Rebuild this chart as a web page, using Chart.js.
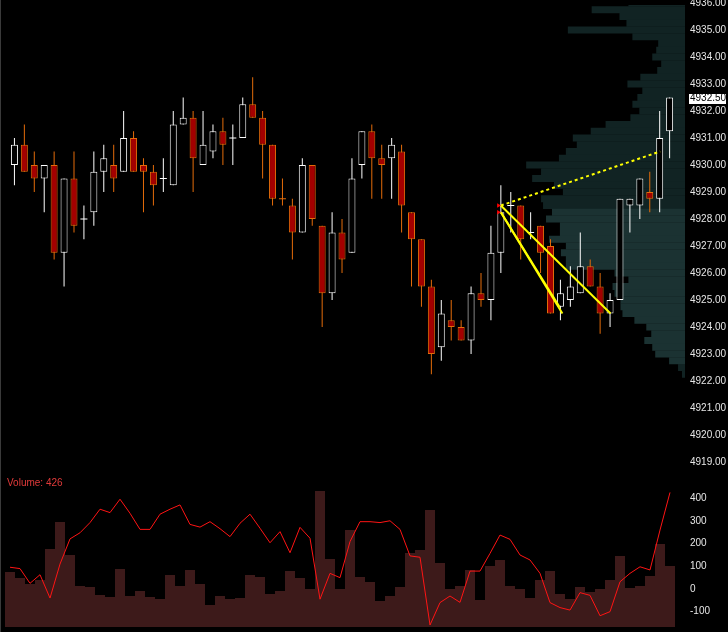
<!DOCTYPE html>
<html>
<head>
<meta charset="utf-8">
<script src="https://cdn.jsdelivr.net/npm/chart.js@4.4.0/dist/chart.umd.min.js"></script>
<style>
  html, body { margin: 0; padding: 0; background: #000; overflow: hidden; }
  #wrap { position: relative; width: 728px; height: 632px; background: #000; }
  #top { position: absolute; left: 0; top: 0; width: 728px; height: 466px; }
  #bot { position: absolute; left: 0; top: 466px; width: 728px; height: 166px; }
  #edge { position: absolute; left: 0; top: 0; width: 1px; height: 632px; background: #3a3a3a; }
</style>
</head>
<body>
<div id="wrap">
  <div id="top"><canvas id="price" width="728" height="466"></canvas></div>
  <div id="bot"><canvas id="vol" width="728" height="166"></canvas></div>
  <div id="edge"></div>
</div>
<script>
const FONT_FAMILY = "'Liberation Sans', Arial, sans-serif";
const WHITE = '#ffffff', ORANGE = '#e46c0a', RED = '#a30000';

// candles (one per bar, left to right)
const opens  = [4930.0, 4930.75, 4930.0, 4929.5, 4930.0, 4926.75, 4929.5, 4928.0, 4928.25, 4929.75,
                4930.0, 4929.75, 4931.0, 4930.0, 4929.75, 4929.5, 4929.25, 4931.5, 4931.75, 4930.0,
                4930.5, 4931.25, 4931.0, 4931.0, 4932.25, 4931.75, 4930.75, 4928.75, 4928.5, 4927.5,
                4930.0, 4927.75, 4925.25, 4927.5, 4926.75, 4930.0, 4931.25, 4930.25, 4930.25, 4930.5,
                4928.25, 4927.25, 4925.5, 4923.25, 4924.25, 4924.0, 4923.5, 4925.25, 4925.0, 4926.75,
                4928.5, 4928.5, 4927.5, 4927.75, 4927.0, 4924.75, 4925.0, 4925.25, 4926.25, 4925.5,
                4924.5, 4925.0, 4928.5, 4928.5, 4929.0, 4928.75, 4931.25];
const highs  = [4931.0, 4931.5, 4930.5, 4930.0, 4930.5, 4929.5, 4930.5, 4928.5, 4930.5, 4930.75,
                4930.75, 4932.0, 4931.25, 4930.25, 4930.0, 4930.25, 4932.0, 4932.5, 4932.0, 4932.0,
                4931.5, 4931.75, 4931.5, 4932.5, 4933.25, 4932.0, 4930.75, 4929.5, 4928.75, 4930.25,
                4930.0, 4927.75, 4928.25, 4928.0, 4930.25, 4931.25, 4931.5, 4930.75, 4931.0, 4930.75,
                4928.25, 4927.25, 4925.75, 4925.0, 4925.0, 4924.25, 4925.5, 4926.0, 4927.75, 4929.25,
                4929.0, 4928.5, 4928.25, 4927.75, 4927.25, 4925.75, 4926.25, 4927.5, 4926.5, 4926.0,
                4925.25, 4928.75, 4928.75, 4929.5, 4929.75, 4932.0, 4932.5];
const lows   = [4929.25, 4929.75, 4929.0, 4928.25, 4926.5, 4925.5, 4927.5, 4927.25, 4927.75, 4929.0,
                4929.0, 4929.75, 4929.75, 4928.25, 4928.5, 4929.0, 4929.25, 4931.5, 4929.0, 4930.0,
                4930.25, 4930.0, 4930.0, 4931.0, 4931.75, 4929.5, 4928.5, 4928.5, 4926.5, 4927.5,
                4927.75, 4924.0, 4925.0, 4926.0, 4926.75, 4929.5, 4928.75, 4928.75, 4928.75, 4927.5,
                4925.5, 4924.75, 4922.25, 4922.75, 4923.5, 4923.5, 4923.0, 4924.75, 4924.25, 4926.0,
                4927.5, 4926.5, 4927.25, 4926.0, 4924.5, 4924.25, 4924.75, 4925.25, 4925.5, 4923.75,
                4924.0, 4925.0, 4927.5, 4928.0, 4928.25, 4928.25, 4930.25];
const closes = [4930.75, 4929.75, 4929.5, 4930.0, 4926.75, 4929.5, 4927.75, 4928.0, 4929.75, 4930.25,
                4929.5, 4931.0, 4929.75, 4929.75, 4929.25, 4929.5, 4931.5, 4931.75, 4930.25, 4930.75,
                4931.25, 4930.75, 4931.0, 4932.25, 4931.75, 4930.75, 4928.75, 4928.75, 4927.5, 4930.0,
                4928.0, 4925.25, 4927.5, 4926.5, 4929.5, 4931.25, 4930.25, 4930.0, 4930.75, 4928.5,
                4927.25, 4925.5, 4923.0, 4924.5, 4924.0, 4923.5, 4925.25, 4925.0, 4926.75, 4928.25,
                4928.5, 4927.25, 4927.5, 4926.75, 4924.5, 4925.25, 4925.5, 4926.25, 4925.5, 4924.5,
                4925.0, 4928.75, 4928.75, 4929.5, 4928.75, 4931.0, 4932.5];

// volume bars and the red line of the lower pane
const volume = [275, 245, 215, 235, 390, 525, 360, 205, 200, 160,
                150, 290, 155, 180, 150, 140, 260, 205, 285, 215,
                110, 155, 140, 145, 260, 250, 165, 180, 280, 245,
                190, 680, 340, 190, 485, 250, 225, 130, 155, 200,
                370, 385, 585, 320, 190, 205, 285, 135, 305, 335,
                205, 190, 145, 235, 280, 165, 140, 200, 175, 190,
                235, 355, 195, 205, 255, 415, 305];
const volLine = [96, 90, 25, 63, -40, 110, 221, 248, 293, 352,
                 337, 396, 334, 263, 263, 330, 352, 371, 285, 273,
                 297, 266, 231, 290, 330, 268, 204, 253, 160, 272,
                 224, -45, 69, 50, 209, 297, 297, 293, 301, 263,
                 146, 140, -159, -60, -31, -59, 79, 79, 157, 238,
                 219, 150, 128, 69, -60, -82, -93, -16, -28, -118,
                 -100, 32, 69, 98, 84, 260, 426];

// volume profile (price level -> traded volume)
const profilePrices = [4936.00, 4935.75, 4935.50, 4935.25, 4935.00, 4934.75, 4934.50, 4934.25,
                       4934.00, 4933.75, 4933.50, 4933.25, 4933.00, 4932.75, 4932.50, 4932.25,
                       4932.00, 4931.75, 4931.50, 4931.25, 4931.00, 4930.75, 4930.50, 4930.25,
                       4930.00, 4929.75, 4929.50, 4929.25, 4929.00, 4928.75, 4928.50, 4928.25,
                       4928.00, 4927.75, 4927.50, 4927.25, 4927.00, 4926.75, 4926.50, 4926.25,
                       4926.00, 4925.75, 4925.50, 4925.25, 4925.00, 4924.75, 4924.50, 4924.25,
                       4924.00, 4923.75, 4923.50, 4923.25, 4923.00, 4922.75, 4922.50, 4922.25];
const profileVol = [57, 94, 66, 59, 118, 53, 27, 29, 33, 24, 28, 45, 58, 43, 48, 53,
                    46, 55, 80, 95, 113, 109, 120, 127, 160, 145, 154, 132, 123, 145, 143, 134,
                    140, 126, 126, 137, 120, 125, 120, 120, 71, 57, 73, 71, 65, 65, 63, 51,
                    39, 34, 41, 33, 30, 16, 7, 3];
const vaHigh = 4928.25, vaLow = 4922.75;

// drawn trend lines [index, price]
const trendA = [[49, 4928.5], [60.05, 4924.5]];
const trendB = [[49, 4928.25], [55.2, 4924.5]];
const trendC = [[49, 4928.25], [54.9, 4924.75]];
const trendDotted = [[49, 4928.5], [65.05, 4930.5]];
const trendStarts = [[48.75, 4928.5], [48.75, 4928.25]];

const priceTicks = [4919, 4920, 4921, 4922, 4923, 4924, 4925, 4926, 4927,
                    4928, 4929, 4930, 4931, 4932, 4933, 4934, 4935, 4936];
const volTicks = [-100, 0, 100, 200, 300, 400];

// where the top and bottom price ticks sit on the canvas
const TOP_TICK_Y = 3, BOTTOM_TICK_Y = 462;

const idx = opens.map((_, i) => i);
const bodyIdx = idx.filter(i => opens[i] !== closes[i]);
const dojiIdx = idx.filter(i => opens[i] === closes[i]);
function isUp(i) {
  if (closes[i] === opens[i]) return i > 0 && closes[i] > closes[i - 1];
  return closes[i] > opens[i];
}
const pts = arr => arr.map(p => ({ x: p[0], y: p[1] }));

const tickFont = { family: FONT_FAMILY, size: 10 };
const tickColor = '#e6e6e6';

const lastPrice = {
  id: 'lastPrice',
  afterDraw(chart) {
    const v = closes[closes.length - 1];
    const y = chart.scales.y.getPixelForValue(v);
    const x = chart.chartArea.right + 4;
    const ctx = chart.ctx;
    ctx.save();
    ctx.fillStyle = '#ffffff';
    ctx.fillRect(x, Math.round(y) - 4, 37, 10);
    ctx.fillStyle = '#000000';
    ctx.font = '10px ' + FONT_FAMILY;
    ctx.textBaseline = 'middle';
    ctx.fillText(v.toFixed(2), x + 1, y + 1);
    ctx.restore();
  }
};

const priceChart = new Chart(document.getElementById('price'), {
  type: 'bar',
  data: {
    datasets: [
      {
        type: 'bar', indexAxis: 'y', xAxisID: 'xp', yAxisID: 'y', order: 10,
        data: profilePrices.map((p, k) => ({ x: profileVol[k], y: p })),
        backgroundColor: profilePrices.map(p => (p <= vaHigh && p >= vaLow) ? '#1b3232' : '#112323'),
        barThickness: 7, borderWidth: 0, inflateAmount: 0, grouped: false
      },
      {
        type: 'bar', xAxisID: 'x', yAxisID: 'y', order: 6,
        data: idx.map(i => ({ x: i, y: [lows[i], highs[i]] })),
        backgroundColor: idx.map(i => isUp(i) ? WHITE : ORANGE),
        barThickness: 1, borderWidth: 0, inflateAmount: 0, grouped: false
      },
      {
        type: 'bar', xAxisID: 'x', yAxisID: 'y', order: 5,
        data: bodyIdx.map(i => ({ x: i, y: [opens[i], closes[i]] })),
        backgroundColor: bodyIdx.map(i => isUp(i) ? '#000000' : RED),
        borderColor: bodyIdx.map(i => isUp(i) ? WHITE : ORANGE),
        borderWidth: 1, borderSkipped: false, barThickness: 7, inflateAmount: 0, grouped: false
      },
      {
        type: 'line', xAxisID: 'x', yAxisID: 'y', order: 4, showLine: false,
        data: dojiIdx.map(i => ({ x: i, y: opens[i] })),
        pointStyle: 'line', pointRadius: 3.5, pointBorderWidth: 1,
        pointBorderColor: dojiIdx.map(i => isUp(i) ? WHITE : ORANGE)
      },
      { type: 'line', xAxisID: 'x', yAxisID: 'y', order: 2, data: pts(trendA), borderColor: '#ffff00', borderWidth: 2, pointRadius: 0 },
      { type: 'line', xAxisID: 'x', yAxisID: 'y', order: 2, data: pts(trendB), borderColor: '#ffff00', borderWidth: 2, pointRadius: 0 },
      { type: 'line', xAxisID: 'x', yAxisID: 'y', order: 2, data: pts(trendC), borderColor: '#ffff00', borderWidth: 2, pointRadius: 0 },
      { type: 'line', xAxisID: 'x', yAxisID: 'y', order: 2, data: pts(trendDotted), borderColor: '#ffff00', borderWidth: 2, borderDash: [3, 3], pointRadius: 0 },
      {
        type: 'line', xAxisID: 'x', yAxisID: 'y', order: 1, showLine: false, data: pts(trendStarts),
        pointStyle: 'triangle', rotation: 90, pointRadius: 2.5, pointBackgroundColor: '#ff0000', pointBorderColor: '#ff0000', pointBorderWidth: 0
      }
    ]
  },
  options: {
    responsive: false,
    animation: false,
    events: [],
    layout: { padding: 0 },
    plugins: { legend: { display: false }, tooltip: { enabled: false } },
    scales: {
      x: { type: 'linear', min: -0.95, max: 67.55, offset: false, display: false },
      xp: { type: 'linear', axis: 'x', min: 0, max: 685, reverse: true, offset: false, display: false },
      y: {
        type: 'linear', position: 'right', min: 4918.8519, max: 4936.1111, offset: false,
        grid: { display: false, drawTicks: false, offset: false }, border: { display: false },
        ticks: { color: tickColor, font: tickFont, padding: 5, callback: v => Number(v).toFixed(2) },
        afterBuildTicks: s => { s.ticks = priceTicks.map(v => ({ value: v })); },
        afterFit: s => { s.width = 43; s.paddingTop = 0; s.paddingBottom = 0; }
      }
    }
  },
  plugins: [lastPrice]
});

// pin the price scale so the end ticks land where they do in the source chart
(function pinPriceScale(chart) {
  const hi = priceTicks[priceTicks.length - 1], lo = priceTicks[0];
  for (let k = 0; k < 4; k++) {
    const s = chart.scales.y;
    const p1 = s.getPixelForValue(hi), p2 = s.getPixelForValue(lo);
    const perPt = (p2 - p1) / (hi - lo);
    const top = p1 - (s.max - hi) * perPt;
    const bottom = top + (s.max - s.min) * perPt;
    const target = (BOTTOM_TICK_Y - TOP_TICK_Y) / (hi - lo);
    chart.options.scales.y.max = hi + (TOP_TICK_Y - top) / target;
    chart.options.scales.y.min = lo - (bottom - BOTTOM_TICK_Y) / target;
    chart.update('none');
  }
})(priceChart);

const volLabel = {
  id: 'volLabel',
  afterDraw(chart) {
    const ctx = chart.ctx;
    ctx.save();
    ctx.fillStyle = '#e23a3a';
    ctx.font = '10px ' + FONT_FAMILY;
    ctx.textBaseline = 'middle';
    ctx.fillText('Volume: ' + volLine[volLine.length - 1], 7, 17);
    ctx.restore();
  }
};

new Chart(document.getElementById('vol'), {
  type: 'bar',
  data: {
    datasets: [
      {
        type: 'line', xAxisID: 'x', yAxisID: 'y', order: 1,
        data: volLine.map((v, i) => ({ x: i, y: v })),
        borderColor: '#ff1414', borderWidth: 1, pointRadius: 0, tension: 0
      },
      {
        type: 'bar', xAxisID: 'x', yAxisID: 'yv', order: 2,
        data: volume.map((v, i) => ({ x: i, y: v })),
        backgroundColor: '#3d1a1a', barThickness: 10, borderWidth: 0, inflateAmount: 0, grouped: false
      }
    ]
  },
  options: {
    responsive: false,
    animation: false,
    events: [],
    layout: { padding: 0 },
    plugins: { legend: { display: false }, tooltip: { enabled: false } },
    scales: {
      x: { type: 'linear', min: -1.0, max: 67.5, offset: false, display: false },
      yv: { type: 'linear', min: -25, max: 805, display: false },
      y: {
        type: 'linear', position: 'right', min: -189.7, max: 542.6,
        grid: { display: false, drawTicks: false }, border: { display: false },
        ticks: { color: tickColor, font: tickFont, padding: 5 },
        afterBuildTicks: s => { s.ticks = volTicks.map(v => ({ value: v })); },
        afterFit: s => { s.width = 43; s.paddingTop = 0; s.paddingBottom = 0; }
      }
    }
  },
  plugins: [volLabel]
});
</script>
</body>
</html>
